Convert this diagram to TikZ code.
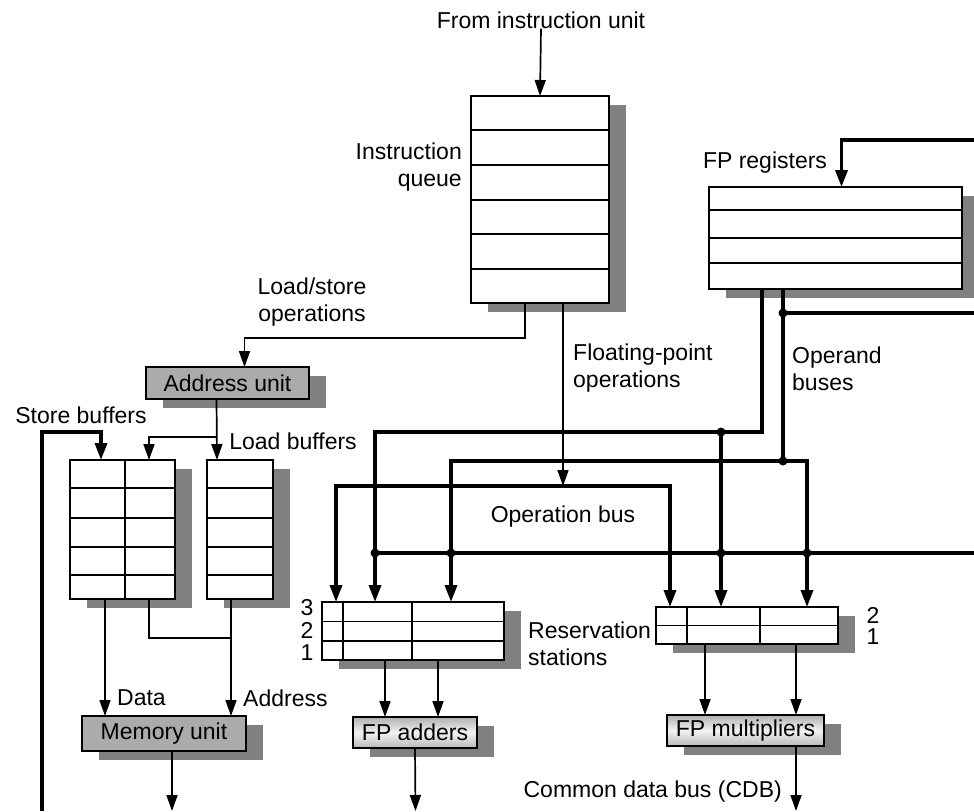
\documentclass[tikz,border=0pt]{standalone}
\usepackage{fontspec}
\setmainfont{Liberation Sans}
\usetikzlibrary{arrows.meta,shadows}

\definecolor{shadowgray}{gray}{0.5}

\tikzset{
  lbl/.style={inner sep=0pt, font=\fontsize{23}{27.5}\selectfont},
  wire/.style={line width=1.7pt, -{Triangle[length=16pt,width=11pt]}},
  bus/.style={line width=3.4pt, -{Triangle[length=17pt,width=12pt]}},
  cell/.style={line width=1.6pt},
  boxshadow/.style={drop shadow={shadow xshift=17pt, shadow yshift=-9pt, fill=shadowgray, opacity=1}},
  regbox/.style={draw, fill=white, line width=1.6pt, inner sep=0pt, outer sep=0pt, boxshadow},
  unitbox/.style={regbox, fill=gray!66, font=\fontsize{23}{27.5}\selectfont},
  fpunit/.style={regbox, top color=gray!62, bottom color=gray!55, middle color=gray!10, font=\fontsize{23}{27.5}\selectfont},
  joint/.style={fill, circle, inner sep=0pt, minimum size=9pt},
}

\begin{document}
\begin{tikzpicture}[x=1pt, y=-1pt]
\useasboundingbox (0,0) rectangle (974,811);

% queue and registers
\node[regbox, minimum width=138pt, minimum height=207pt] (queue) at (540,199.5) {};
\foreach \y in {130,165,200,234,269}
  \draw[cell] (471,\y) -- (609,\y);
\node[regbox, minimum width=253pt, minimum height=102pt] (regs) at (835.5,238) {};
\foreach \y in {210,238,263}
  \draw[cell] (709,\y) -- (962,\y);

% load/store side
\node[unitbox, minimum width=163pt, minimum height=32pt] (addr) at (227.5,383) {Address unit};
\node[regbox, minimum width=105pt, minimum height=139pt] (store) at (122.5,529.5) {};
\node[regbox, minimum width=66pt, minimum height=139pt] (load) at (240,529.5) {};
\foreach \y in {488,518,547,575} {
  \draw[cell] (70,\y) -- (175,\y);
  \draw[cell] (207,\y) -- (273,\y);
}
\draw[cell] (125,460) -- (125,599);
\node[unitbox, minimum width=164pt, minimum height=35pt] (mem) at (164,733.5) {Memory unit};

% reservation stations
\node[regbox, minimum width=182pt, minimum height=58pt] (rsA) at (413,631) {};
\foreach \y in {621.5,641}
  \draw[cell] (322,\y) -- (504,\y);
\foreach \x in {343,412}
  \draw[cell] (\x,602) -- (\x,660);
\node[regbox, minimum width=182pt, minimum height=37pt] (rsM) at (747,625.5) {};
\draw[cell] (656,625.5) -- (838,625.5);
\foreach \x in {687,760}
  \draw[cell] (\x,607) -- (\x,644);
\node[fpunit, minimum width=124pt, minimum height=31pt] (add) at (415,732.5) {FP adders};
\node[fpunit, minimum width=157pt, minimum height=31pt] (mul) at (745.5,730.5) {FP multipliers};

% labels
\node[lbl] (from) at (541,20) {From instruction unit};
\node[lbl, align=right, anchor=east] (qlbl) at (462,167) {Instruction\\queue};
\node[lbl] (rlbl) at (765,163) {FP registers};
\node[lbl, align=center] (lslbl) at (312,302) {Load/store\\operations};
\node[lbl, align=left, anchor=west] (fplbl) at (573,368) {Floating-point\\operations};
\node[lbl, align=left, anchor=west] (oblbl) at (792,369) {Operand\\buses};
\node[lbl] (sblbl) at (81,415) {Store buffers};
\node[lbl] (lblbl) at (293,441) {Load buffers};
\node[lbl] (oplbl) at (563,517) {Operation bus};
\node[lbl, align=left, anchor=west] (rslbl) at (528,644) {Reservation\\stations};
\node[lbl] (n3) at (307,608) {3};
\node[lbl] (n2) at (307,630) {2};
\node[lbl] (n1) at (307,653) {1};
\node[lbl] (m2) at (873,615) {2};
\node[lbl] (m1) at (873,637) {1};
\node[lbl, anchor=west] (dlbl) at (117,698) {Data};
\node[lbl, anchor=west] (albl) at (243,698) {Address};
\node[lbl, anchor=east] (cdblbl) at (782,792) {Common data bus (CDB)};

% bus joints and free ends
\coordinate (opmid) at (563,486);
\coordinate (j1) at (721,432);
\coordinate (j2) at (783,461);
\coordinate (j3) at (231,638);
\coordinate (ab) at (217,437);
\coordinate (cdbL) at (42,811);
\coordinate (cdbR) at (974,553);
\coordinate (cdbT) at (974,140);
\coordinate (cdbO) at (974,313);
\coordinate (memout) at (172,811);
\coordinate (addout) at (415.5,811);
\coordinate (mulout) at (796,811);

% thin connectors
\draw[wire] (from.south) -- (queue.north);
\draw[wire] ([xshift=-15pt]queue.south) -- ++(0,35) -| ([xshift=17pt]addr.north);
\draw[wire] ([xshift=23pt]queue.south) -- (opmid);
\draw[wire] ([xshift=-11pt]addr.south) -- ([xshift=-23pt]load.north);
\draw[wire] (ab) -| ([xshift=26.5pt]store.north);
\draw[wire] ([xshift=-17.5pt]store.south) -- ([xshift=-59pt]mem.north);
\draw[wire, -] ([xshift=26.5pt]store.south) |- (j3);
\draw[wire] ([xshift=-9pt]load.south) -- ([xshift=67pt]mem.north);
\draw[wire] ([xshift=8pt]mem.south) -- (memout);
\draw[wire] ([xshift=-28pt]rsA.south) -- ([xshift=-30pt]add.north);
\draw[wire] ([xshift=25pt]rsA.south) -- ([xshift=23pt]add.north);
\draw[wire] (add.south) -- (addout);
\draw[wire] ([xshift=-42pt]rsM.south) -- ([xshift=-40.5pt]mul.north);
\draw[wire] ([xshift=49pt]rsM.south) -- ([xshift=50.5pt]mul.north);
\draw[wire] ([xshift=50.5pt]mul.south) -- (mulout);

% operation bus
\draw[bus, {Triangle[length=17pt,width=12pt]}-{Triangle[length=17pt,width=12pt]}]
  ([xshift=-77pt]rsA.north) |- (opmid) -| ([xshift=-77pt]rsM.north);

% operand buses
\draw[bus] ([xshift=-73.5pt]regs.south) |- (j1) -| ([xshift=-38pt]rsA.north);
\draw[bus] (j1) -- ([xshift=-26pt]rsM.north);
\draw[bus] ([xshift=-52.5pt]regs.south) |- (j2) -| ([xshift=38pt]rsA.north);
\draw[bus] (j2) -| ([xshift=60pt]rsM.north);

% common data bus
\draw[bus] (cdbT) -| ([xshift=6pt]regs.north);
\draw[bus, -] (cdbO) -- (cdbO -| j2);
\draw[bus, -] (cdbR) -- (375,553);
\draw[bus] (cdbL) -- ++(0,-379) -| ([xshift=-21.5pt]store.north);

\node[joint] at (cdbO -| j2) {};
\node[joint] at (j1) {};
\node[joint] at (j2) {};
\foreach \x in {375,451,721,807}
  \node[joint] at (\x,553) {};
\end{tikzpicture}
\end{document}
